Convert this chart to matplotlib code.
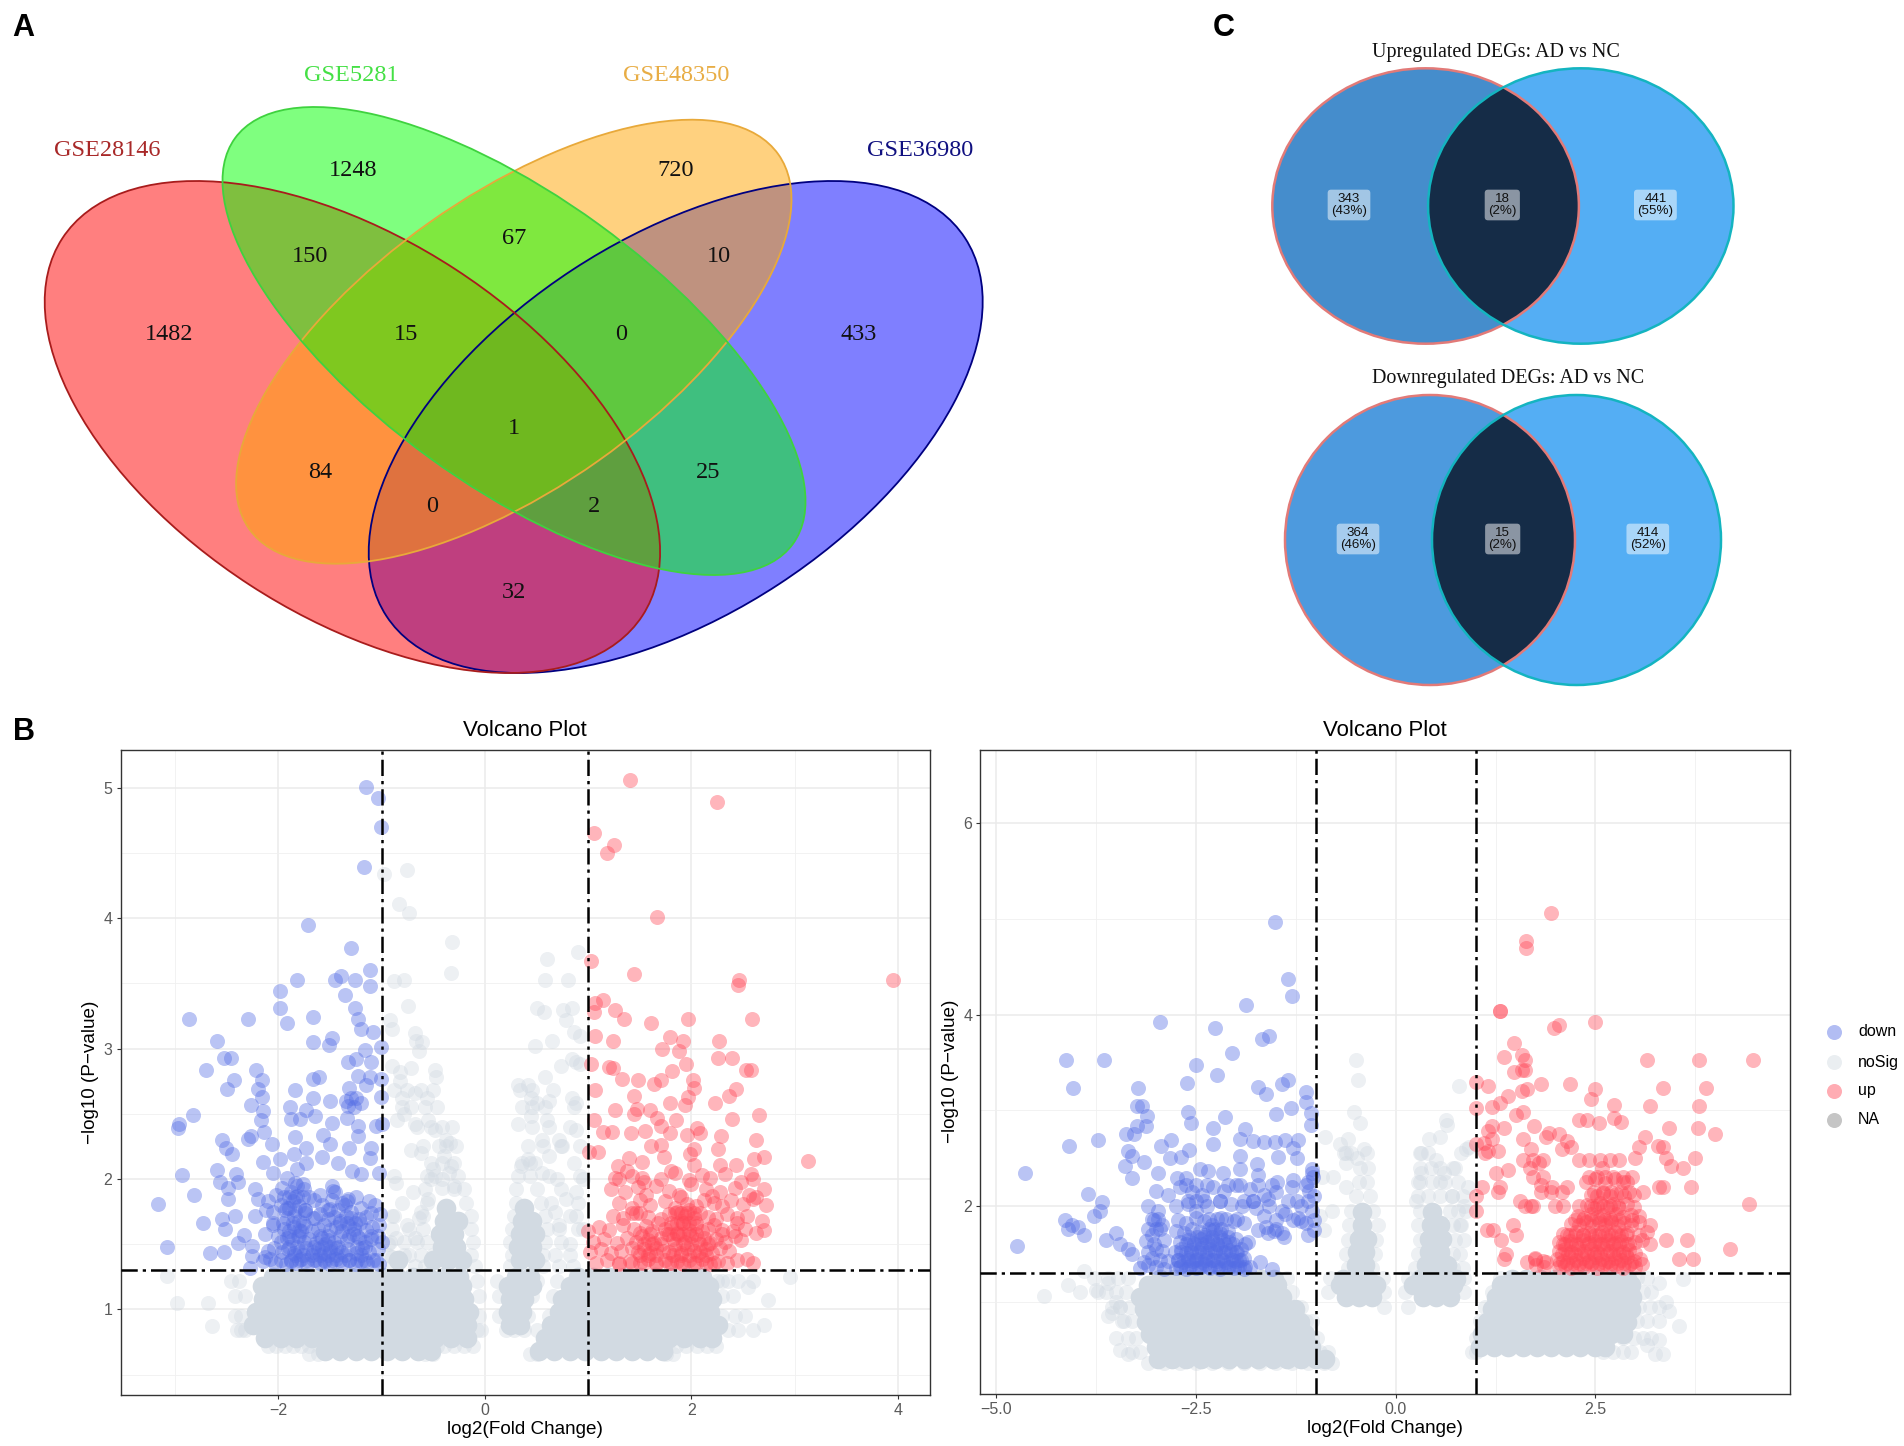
import numpy as np
import matplotlib
matplotlib.use("Agg")
import matplotlib.pyplot as plt
from matplotlib.patches import Ellipse

# ---------------- DATA ----------------
VENN4_LABELS = ["GSE28146", "GSE5281", "GSE48350", "GSE36980"]
VENN4_COUNTS = ["1482", "1248", "720", "433", "150", "67", "10", "15", "0", "1", "84", "25", "0", "2", "32"]
UP_COUNTS = ["343\n(43%)", "18\n(2%)", "441\n(55%)"]
DOWN_COUNTS = ["364\n(46%)", "15\n(2%)", "414\n(52%)"]
LEGEND_NAMES = ["down", "noSig", "up", "NA"]

# Panel B left: significant genes
B1_DOWN_X = [-1.15,-1.04,-1.01,-1.17,-1.71,-1.30,-1.11,-1.39,-1.45,-1.26,-1.82,-1.11,-1.99,-1.36,-1.26,-1.99,-2.87,-2.30,-1.67,-1.23,-1.92,-1.20,-1.08,-2.60,-1.48,-1.67,-1.51,-1.01,-1.16,-2.53,-2.46,-1.33,-1.25,-1.10,-2.70,-2.22,-2.43,-2.16,-1.67,-1.61,-1.23,-1.11,-1.01,-2.50,-2.20,-1.84,-1.32,-1.15,-2.16,-1.67,-1.01,-2.27,-1.89,-1.50,-1.35,-1.30,-1.27,-1.20,-1.25,-1.33,-2.83,-2.96,-2.97,-2.15,-2.17,-1.88,-1.79,-1.65,-1.73,-1.48,-1.34,-1.23,-1.06,-1.00,-2.27,-2.30,-2.14,-2.55,-2.51,-2.45,-2.06,-1.84,-1.57,-1.23,-1.50,-1.32,-1.10,-1.73,-1.85,-1.99,-2.15,-1.58,-1.42,-1.11,-1.73,-1.82,-2.93,-2.60,-2.41,-2.05,-1.92,-1.29,-1.20,-1.03,-2.57,-2.39,-2.49,-2.82,-2.23,-2.49,-1.48,-1.82,-1.76,-1.47,-1.34,-1.07,-3.17,-2.73,-3.08,-2.66,-2.53,-2.55,-2.52,-2.42,-2.23,-2.33,-2.39,-2.26,-2.28,-2.26,-2.13,
-2.15,-2.08,-2.03,-1.98,-1.93,-1.88,-1.83,-1.78,-1.72,-1.66,-1.60,-1.55,-1.50,-1.44,-1.38,-1.32,-1.26,-1.20,-1.14,-1.08,-1.03,
-2.10,-2.04,-1.97,-1.91,-1.85,-1.79,-1.73,-1.67,-1.62,-1.56,-1.50,-1.44,-1.39,-1.33,-1.25,-1.19,-1.12,-1.04,
-1.98,-1.92,-1.87,-1.81,-1.75,-1.70,-1.64,-1.58,-1.52,-1.46,-1.40,-1.34,-1.28,-1.22,-1.16,-1.10,-1.04,-1.00,
-1.95,-1.90,-1.85,-1.80,-1.74,-1.68,-1.62,-1.56,-1.50,-1.44,-1.38,-1.32,-1.27,-1.21,-1.15,-1.09,-1.03,
-1.92,-1.85,-1.80,-1.74,-1.67,-1.60,-1.52,-1.46,-1.40,-1.35,-1.30,-1.22,-1.15,-1.02,
-2.05,-1.98,-1.92,-1.86,-1.80,-1.74,-1.66,-1.58,-1.50,-1.38,-1.30,-1.20,-1.10,
-2.20,-2.10,-2.02,-1.95,-1.88,-1.82,-1.75,-1.60,-1.48,-1.36,-1.25,-1.12,
-2.13,-2.05,-1.97,-1.90,-1.84,-1.78,-1.65,-1.55,-1.45,-1.33]
B1_DOWN_Y = [5.01,4.92,4.70,4.39,3.95,3.77,3.60,3.56,3.53,3.53,3.53,3.48,3.44,3.41,3.31,3.31,3.23,3.23,3.24,3.23,3.20,3.15,3.13,3.06,3.08,3.05,3.03,3.01,2.99,2.93,2.93,2.90,2.92,2.90,2.84,2.84,2.76,2.76,2.77,2.78,2.79,2.78,2.77,2.69,2.69,2.68,2.70,2.72,2.63,2.62,2.63,2.57,2.55,2.60,2.60,2.62,2.55,2.58,2.62,2.56,2.49,2.42,2.39,2.52,2.45,2.46,2.46,2.48,2.53,2.43,2.47,2.41,2.41,2.42,2.33,2.31,2.36,2.30,2.24,2.19,2.27,2.32,2.34,2.33,2.27,2.24,2.24,2.24,2.19,2.15,2.13,2.17,2.12,2.16,2.12,2.08,2.03,2.07,2.04,2.05,2.01,2.06,2.04,2.05,1.98,1.98,1.93,1.88,1.92,1.85,1.95,1.95,1.96,1.91,1.83,1.80,1.81,1.66,1.48,1.43,1.44,1.69,1.62,1.72,1.72,1.57,1.51,1.49,1.32,1.41,1.40,
1.37,1.39,1.36,1.38,1.35,1.37,1.36,1.39,1.35,1.38,1.36,1.37,1.35,1.39,1.36,1.38,1.35,1.37,1.36,1.38,1.35,
1.45,1.47,1.44,1.46,1.43,1.45,1.47,1.44,1.46,1.43,1.45,1.47,1.44,1.46,1.43,1.47,1.44,1.46,
1.52,1.55,1.53,1.56,1.52,1.54,1.51,1.55,1.53,1.52,1.56,1.53,1.58,1.55,1.52,1.54,1.56,1.52,
1.62,1.60,1.63,1.61,1.64,1.60,1.62,1.65,1.61,1.63,1.60,1.64,1.62,1.66,1.61,1.63,1.65,
1.70,1.72,1.68,1.74,1.70,1.73,1.69,1.71,1.68,1.72,1.70,1.69,1.71,1.73,
1.75,1.80,1.78,1.83,1.79,1.76,1.84,1.80,1.77,1.82,1.75,1.78,1.74,
1.85,1.83,1.88,1.86,1.90,1.87,1.92,1.88,1.84,1.80,1.86,1.83,
1.58,1.65,1.93,1.78,1.97,1.60,1.70,1.50,1.90,1.85]
B1_UP_X = [1.40,2.25,1.06,1.25,1.18,1.67,1.03,1.44,2.46,2.45,3.95,1.14,1.07,1.06,1.26,1.35,1.61,1.97,2.59,1.07,1.24,1.79,1.92,2.27,1.71,1.88,2.26,2.39,1.03,1.95,1.20,1.24,1.81,2.53,2.58,1.33,1.48,1.70,1.64,2.01,2.43,1.07,2.02,1.44,1.97,2.36,2.23,1.79,1.26,1.47,1.60,1.94,1.44,1.67,2.65,1.06,2.39,1.85,1.70,2.05,1.14,1.23,1.41,1.55,1.79,1.96,2.08,2.29,2.62,1.61,1.70,2.26,2.02,1.01,1.09,1.99,3.13,2.70,2.61,1.39,1.73,2.02,2.28,2.43,1.29,1.38,1.52,1.80,2.58,1.26,1.52,
1.08,1.18,1.30,1.40,1.50,1.58,1.66,1.74,1.80,1.86,1.92,1.98,2.04,2.10,2.18,2.26,2.34,2.44,2.54,2.60,
1.02,1.12,1.22,1.32,1.42,1.48,1.54,1.60,1.66,1.72,1.78,1.84,1.90,1.96,2.02,2.08,2.14,2.20,2.28,2.36,
1.05,1.15,1.28,1.38,1.46,1.52,1.58,1.64,1.70,1.76,1.82,1.88,1.94,2.00,2.06,2.12,2.18,2.24,2.32,2.42,2.48,
1.00,1.10,1.20,1.34,1.44,1.50,1.56,1.62,1.68,1.74,1.80,1.86,1.92,1.98,2.04,2.10,2.16,2.22,2.30,2.40,2.52,2.62,2.70,
1.24,1.34,1.46,1.58,1.70,1.78,1.86,1.90,1.94,1.98,2.02,2.08,2.16,2.24,2.34,2.44,2.54,2.68,
1.30,1.42,1.50,1.60,1.74,1.84,1.90,1.96,2.04,2.12,2.22,2.30,2.38,2.50,2.62,2.72,
1.22,1.36,1.48,1.56,1.66,1.78,1.88,2.00,2.14,2.20,2.28,2.42,2.56,2.60,2.70,
1.30,1.42,1.54,1.70,1.84,1.98,2.10,2.18,2.32,2.48,2.60]
B1_UP_Y = [5.06,4.89,4.65,4.56,4.50,4.01,3.67,3.57,3.53,3.49,3.53,3.37,3.35,3.28,3.30,3.23,3.20,3.23,3.23,3.10,3.06,3.09,3.06,3.06,3.00,2.98,2.93,2.93,2.88,2.88,2.86,2.85,2.83,2.84,2.84,2.77,2.76,2.76,2.73,2.76,2.69,2.68,2.70,2.64,2.63,2.64,2.58,2.58,2.53,2.54,2.53,2.57,2.50,2.47,2.49,2.45,2.46,2.45,2.41,2.39,2.36,2.36,2.35,2.37,2.35,2.34,2.35,2.33,2.30,2.25,2.26,2.23,2.23,2.21,2.21,2.19,2.14,2.17,2.15,2.16,2.17,2.11,2.11,2.11,2.10,2.06,2.13,2.06,2.04,2.01,2.01,
1.36,1.38,1.35,1.37,1.36,1.39,1.35,1.38,1.36,1.37,1.35,1.38,1.36,1.39,1.35,1.37,1.36,1.38,1.39,1.36,
1.44,1.46,1.43,1.45,1.47,1.44,1.46,1.43,1.47,1.45,1.44,1.46,1.43,1.47,1.45,1.44,1.46,1.43,1.47,1.45,
1.52,1.54,1.51,1.55,1.52,1.56,1.53,1.51,1.55,1.58,1.54,1.57,1.52,1.56,1.53,1.55,1.51,1.54,1.52,1.56,1.53,
1.60,1.63,1.61,1.65,1.62,1.59,1.64,1.60,1.66,1.62,1.63,1.59,1.66,1.61,1.64,1.60,1.62,1.65,1.61,1.60,1.62,1.59,1.61,
1.72,1.70,1.74,1.71,1.69,1.73,1.75,1.68,1.72,1.76,1.70,1.74,1.71,1.69,1.73,1.70,1.72,1.68,
1.82,1.78,1.84,1.80,1.83,1.78,1.86,1.81,1.79,1.84,1.82,1.79,1.84,1.81,1.86,1.80,
1.92,1.90,1.94,1.88,1.95,1.91,1.88,1.96,1.92,1.87,1.90,1.93,1.88,1.85,1.92,
2.00,2.02,1.98,2.00,2.05,1.99,2.03,2.01,2.04,1.98,2.00]
B1_SPARSE_X = [-3.08,-2.98,-2.68,-2.64,-2.36,-0.98,-0.76,-0.83,-0.74,-0.32,-0.33,-0.88,-0.78,-0.75,-0.92,-0.9,-0.68,-0.61,-0.67,-0.64,-0.9,-0.82,-0.72,-0.82,-0.48,-0.47,-0.8,-0.68,-0.56,-0.78,-0.85,-0.68,-0.55,-0.48,-0.38,-0.34,-0.72,-0.62,-0.4,-0.33,-0.5,-0.35,-0.42,-0.52,-0.3,-0.42,-0.86,-0.7,-0.55,-0.62,-0.9,-0.76,-0.64,-0.86,-0.94,-0.68,-0.78,-0.9,
0.60,0.58,0.8,0.9,0.84,0.5,0.57,0.76,0.78,0.86,0.92,0.48,0.65,0.92,0.84,0.74,0.88,0.32,0.42,0.58,0.45,0.5,0.62,0.84,0.88,0.32,0.45,0.6,0.72,0.55,0.42,0.88,0.55,0.75,0.35,0.48,0.62,0.92,0.7,0.95,0.88,0.78,0.88,0.72,0.68,0.95,0.82,2.3,2.55,2.74,2.7,2.95,2.6]
B1_SPARSE_Y = [1.26,1.05,1.05,0.87,0.84,4.34,4.37,4.11,4.04,3.82,3.58,3.52,3.53,3.33,3.22,3.15,3.12,3.05,3.06,2.98,2.87,2.82,2.85,2.75,2.84,2.78,2.62,2.66,2.62,2.5,2.45,2.42,2.45,2.38,2.3,2.28,2.22,2.2,2.18,2.1,2.08,2.05,2.0,2.0,1.95,1.93,1.97,1.9,1.85,1.75,1.72,1.65,1.7,1.55,1.5,1.55,1.42,1.4,
3.69,3.53,3.53,3.74,3.31,3.31,3.28,3.3,3.22,3.13,3.1,3.02,3.06,2.88,2.92,2.87,2.9,2.72,2.72,2.78,2.62,2.58,2.6,2.62,2.58,2.42,2.48,2.45,2.3,2.3,2.15,2.38,2.05,2.25,2.1,2.12,2.18,2.25,2.0,2.0,1.9,1.85,1.72,1.65,1.75,1.62,1.5,1.22,1.17,1.07,0.88,1.25,0.84]
# further translucent noSig genes, by row: (-log10 P, [log2FC values])
B1_SPARSE_ROWS = [
 (0.66,[-1.7,-1.62,-0.58,-0.5,0.44,0.5,1.75,1.82]),
 (0.72,[-2.1,-2.02,-1.94,-1.86,-1.78,-1.7,-0.46,-0.4,-0.3,-0.2,-0.12,1.85,1.95,2.05,2.15,2.24]),
 (0.84,[-2.4,-2.32,-0.08,-0.04,0.2,0.28,0.38,0.5,2.35,2.45]),
 (0.95,[-2.42,-2.36,-0.06,0.14,0.42,0.62,2.3,2.42,2.52]),
 (1.1,[-2.42,-2.32,-0.06,0.14,0.46,0.66,2.3,2.4]),
 (1.22,[-2.38,-2.46,-0.08,0.12,0.5,0.7,2.25,2.35,2.45,2.6]),
 (1.33,[-0.9,-0.68,-0.58,-0.1,0.24,0.56,0.72,0.85]),
 (1.42,[-0.94,-0.74,-0.62,-0.5,-0.14,0.26,0.56,0.68,0.82]),
 (1.52,[-0.92,-0.78,-0.66,-0.56,-0.12,0.24,0.58,0.74]),
 (1.62,[-0.9,-0.74,-0.6,-0.14,0.26,0.6,0.72,0.9]),
 (1.72,[-0.88,-0.6,-0.14,0.28,0.58,0.82]),
 (1.82,[-0.8,-0.56,-0.18,0.3,0.54,0.64,0.9]),
 (1.92,[-0.58,-0.3,-0.2,0.3,0.5,0.74]),
 (2.02,[-0.88,-0.56,-0.48,-0.26,0.32,0.44,0.62,0.92]),
 (2.12,[-0.52,-0.42,-0.3,0.36,0.44,0.86]),
 (2.25,[-0.6,-0.45,-0.38,-0.28,0.42,0.56,0.74]),
 (2.4,[-0.66,-0.52,-0.42,-0.32,0.46,0.62,0.82]),
 (2.55,[-0.8,-0.72,-0.58,-0.46,0.36,0.46,0.58,0.86]),
 (2.68,[-0.88,-0.76,-0.62,-0.5,0.34,0.46,0.66]),
]
# rows of the dense noSig mass: (-log10 P, [log2FC values])
B1_MASS = [
 (0.68,[-1.55,-1.40,-1.25,-1.10,-0.95,-0.80,-0.65,-0.52, 0.52,0.67,0.82,0.97,1.12,1.27,1.42,1.57,1.72]),
 (0.78,[-2.13,-1.98,-1.83,-1.68,-1.53,-1.38,-1.23,-1.08,-0.93,-0.78,-0.63,-0.48,-0.33,-0.17, 0.58,0.73,0.88,1.03,1.18,1.33,1.48,1.63,1.78,1.93,2.08,2.2]),
 (0.88,[-2.25,-2.10,-1.95,-1.80,-1.65,-1.50,-1.35,-1.20,-1.05,-0.90,-0.75,-0.60,-0.45,-0.30,-0.17, 0.24,0.34, 0.64,0.79,0.94,1.09,1.24,1.39,1.54,1.69,1.84,1.99,2.14,2.26]),
 (0.98,[-2.22,-2.07,-1.92,-1.77,-1.62,-1.47,-1.32,-1.17,-1.02,-0.87,-0.72,-0.57,-0.42,-0.27,-0.15, 0.22,0.36, 0.72,0.87,1.02,1.17,1.32,1.47,1.62,1.77,1.92,2.07,2.18]),
 (1.08,[-2.15,-2.00,-1.85,-1.70,-1.55,-1.40,-1.25,-1.10,-0.95,-0.80,-0.65,-0.50,-0.35,-0.20, 0.24,0.38, 0.75,0.90,1.05,1.20,1.35,1.50,1.65,1.80,1.95,2.10,2.2]),
 (1.18,[-2.16,-2.02,-1.87,-1.72,-1.57,-1.42,-1.27,-1.12,-0.97,-0.82,-0.67,-0.52,-0.37,-0.22, 0.22,0.36,0.46, 0.82,0.97,1.12,1.27,1.42,1.57,1.72,1.87,2.02,2.17]),
 (1.25,[-2.05,-1.90,-1.75,-1.60,-1.45,-1.30,-1.15,-1.00,-0.85,-0.70,-0.55,-0.40,-0.25, 0.30,0.44, 0.90,1.05,1.20,1.35,1.50,1.65,1.80,1.95,2.10]),
 (1.38,[-0.84,-0.50,-0.36,-0.22, 0.34,0.48]),
 (1.48,[-0.42,-0.28, 0.32,0.46]),
 (1.58,[-0.44,-0.30, 0.34,0.48]),
 (1.68,[-0.40,-0.26, 0.36,0.46]),
 (1.78,[-0.38, 0.38]),
]
# extra dense genes in the core of each significant cloud, by row
B1_DOWN_CORE = [
 (1.38,[-1.88,-1.8,-1.72,-1.64,-1.56,-1.48,-1.4,-1.32,-1.24,-1.16,-1.06]),
 (1.42,[-1.84,-1.76,-1.68,-1.6,-1.52,-1.44,-1.36,-1.2]),
 (1.48,[-1.9,-1.82,-1.66,-1.58,-1.5,-1.42,-1.24,-1.16]),
 (1.56,[-2.0,-1.9,-1.8,-1.6,-1.52,-1.32,-1.24,-1.1]),
 (1.66,[-2.05,-1.96,-1.86,-1.76,-1.4,-1.34,-1.26]),
 (1.76,[-2.12,-1.94,-1.84,-1.74,-1.52,-1.42]),
 (1.86,[-1.9,-1.84,-1.76,-1.7]),
]
B1_UP_CORE = [
 (1.36,[1.3,1.42,1.54,1.66,1.78,1.9,2.02,2.14,2.22]),
 (1.42,[1.5,1.58,1.66,1.82,1.9,1.98,2.06,2.14]),
 (1.5,[1.54,1.62,1.7,1.84,1.92,2.0,2.08,2.16]),
 (1.58,[1.6,1.78,1.86,1.92,1.98,2.04,2.3]),
 (1.66,[1.8,1.86,1.92,1.98,2.04,2.44]),
 (1.74,[1.84,1.9,1.96,2.02,1.42,1.5]),
]
B2_SPARSE_X = [-4.4,-4.1,-3.95,-3.9,-3.75,-3.6,-3.5,-3.45,-3.55,-3.4,-3.6,-3.5,-3.45,-3.35,-0.5,-0.47,-0.52,-0.44,-0.7,-0.65,-0.88,-0.6,-0.56,-0.62,-0.4,-0.92,-0.78,-0.62,-0.8,-0.48,-0.95,-0.9,0.63,0.42,0.64,0.79,0.55,0.31,0.5,0.92,0.32,0.55,0.72,0.88,0.3,0.6,0.7,0.25,0.9,0.85,0.8,3.3,3.38,3.42,3.55,3.6,3.3,3.25,3.15,3.35]
B2_SPARSE_Y = [1.06,1.18,1.1,1.32,1.12,1.2,1.0,0.95,0.88,0.8,0.85,0.62,0.5,0.45,3.53,3.32,2.98,2.87,2.65,2.55,2.72,2.7,2.55,2.45,2.6,2.3,2.3,2.2,1.95,2.5,1.9,1.75,2.9,2.7,2.85,3.25,2.72,2.55,2.48,2.62,2.35,2.25,2.4,2.6,2.25,2.35,2.1,2.05,2.2,2.0,1.8,1.2,1.0,0.9,0.75,1.24,0.6,0.45,0.55,0.45]
B2_SPARSE_ROWS = [
 (0.36,[-3.1,-2.9,-2.7,-2.5,-2.3,-2.1,-1.9,-1.7,-1.5,-1.3,-1.1,-0.9,-0.8]),
 (0.48,[-3.2,-3.3,-0.95,-0.85,0.95,1.0,2.6,2.72,2.85,2.95]),
 (0.62,[-3.25,-3.35,-1.05,-0.98,1.0,2.85,2.98,3.1,3.2]),
 (0.8,[-3.3,-3.42,-1.12,-1.05,1.05,3.02,3.15,3.3]),
 (0.95,[-3.32,-3.45,-3.55,-1.18,-0.15,0.15,1.12,3.05,3.18,3.3]),
 (1.1,[-3.38,-3.5,-3.62,-3.72,-1.3,-0.85,-0.15,0.12,0.85,1.2,3.1,3.2]),
 (1.25,[-3.35,-3.48,-3.6,-3.78,-1.36,-0.82,-0.16,0.16,0.86,1.3,3.02,3.14]),
 (1.35,[-0.6,-0.3,0.24,0.72,0.84]),
 (1.5,[-0.62,-0.26,0.28,0.72,0.8]),
 (1.65,[-0.6,-0.24,0.3,0.74,0.86]),
 (1.8,[-0.58,-0.22,0.28,0.72,0.82]),
 (1.95,[-0.56,-0.28,0.3,0.68,0.78,0.88]),
 (2.1,[-0.5,-0.32,0.28,0.4,0.56,0.7,0.84]),
 (2.25,[-0.46,-0.36,0.28,0.46,0.62,0.78]),
 (2.4,[-0.44,-0.34,0.3,0.44,0.56,0.74]),
 (2.55,[-0.62,-0.36,0.32,0.4,0.82]),
]
B2_MASS = [
 (0.40,[-2.98,-2.8,-2.62,-2.44,-2.26,-2.08,-1.9,-1.72,-1.54,-1.36,-1.18,-1.0,-0.88]),
 (0.53,[-3.0,-2.82,-2.64,-2.46,-2.28,-2.1,-1.92,-1.74,-1.56,-1.38,-1.2,-1.06, 1.05,1.23,1.41,1.59,1.77,1.95,2.13,2.31,2.49,2.62]),
 (0.66,[-3.08,-2.9,-2.72,-2.54,-2.36,-2.18,-2.0,-1.82,-1.64,-1.46,-1.28,-1.14, 1.08,1.26,1.44,1.62,1.8,1.98,2.16,2.34,2.52,2.7,2.84]),
 (0.79,[-3.12,-2.94,-2.76,-2.58,-2.4,-2.22,-2.04,-1.86,-1.68,-1.5,-1.32,-1.2, 1.14,1.32,1.5,1.68,1.86,2.04,2.22,2.4,2.58,2.76,2.9]),
 (0.92,[-3.15,-2.97,-2.79,-2.61,-2.43,-2.25,-2.07,-1.89,-1.71,-1.53,-1.36,-1.26, 1.2,1.38,1.56,1.74,1.92,2.1,2.28,2.46,2.64,2.82,2.94]),
 (1.05,[-3.2,-3.02,-2.84,-2.66,-2.48,-2.3,-2.12,-1.94,-1.76,-1.58,-1.42, -0.62,-0.46,-0.3, 0.34,0.5,0.68, 1.25,1.43,1.61,1.79,1.97,2.15,2.33,2.51,2.69,2.87,2.96]),
 (1.18,[-3.1,-2.92,-2.74,-2.56,-2.38,-2.2,-2.02,-1.84,-1.66,-1.48, -0.7,-0.54,-0.38,-0.24, 0.22,0.38,0.55,0.72, 1.32,1.5,1.68,1.86,2.04,2.22,2.4,2.58,2.76,2.94]),
 (1.24,[-2.95,-2.77,-2.59,-2.41,-2.23,-2.05,-1.87,-1.69,-1.52, -0.66,-0.5,-0.34, 0.3,0.46,0.62,0.76, 1.45,1.63,1.81,1.99,2.17,2.35,2.53,2.71,2.89]),
 (1.38,[-0.5,-0.38, 0.38,0.54,0.64]),
 (1.52,[-0.48,-0.38, 0.42,0.56]),
 (1.66,[-0.46,-0.36, 0.42,0.58]),
 (1.80,[-0.42, 0.44,0.56]),
 (1.94,[-0.42, 0.46]),
]
B2_DOWN_CORE = [
 (1.36,[-2.7,-2.58,-2.46,-2.34,-2.22,-2.1,-1.98,-1.88]),
 (1.44,[-2.72,-2.6,-2.5,-2.38,-2.28,-2.16,-2.04,-1.96]),
 (1.52,[-2.68,-2.56,-2.46,-2.36,-2.26,-2.16,-2.06,-1.98]),
 (1.6,[-2.62,-2.52,-2.42,-2.34,-2.24,-2.14,-2.04]),
 (1.68,[-2.58,-2.48,-2.4,-2.3,-2.2,-2.1]),
 (1.76,[-2.34,-2.26,-2.18,-3.1,-3.0]),
 (1.86,[-2.34,-2.24,-2.12,-3.05,-2.98,-1.98]),
 (2.05,[-2.6,-2.5,-2.4,-2.2,-1.9,-1.78,-1.24,-1.1]),
 (2.22,[-2.62,-2.5,-2.36,-2.1,-1.95,-1.72,-1.55,-1.12]),
]
B2_UP_CORE = [
 (1.4,[2.06,2.14,2.22,2.3,2.38,2.46,2.54,2.62,2.7,2.78,2.86,2.94]),
 (1.5,[2.08,2.16,2.24,2.32,2.4,2.48,2.56,2.64,2.72,2.8,2.88]),
 (1.6,[2.12,2.2,2.3,2.4,2.48,2.56,2.64,2.72,2.8,2.92]),
 (1.7,[2.14,2.24,2.34,2.44,2.54,2.62,2.7,2.78,2.88]),
 (1.85,[2.24,2.34,2.44,2.54,2.62,2.7,2.8,2.96]),
 (2.0,[1.62,1.72,2.0,2.1,2.3,2.44,2.52,2.6,2.68,2.78]),
 (2.15,[1.82,1.95,2.08,2.48,2.6,2.7,2.82,2.92]),
 (2.3,[1.72,1.85,2.42,2.52,2.62,2.72,2.84,2.96]),
 (2.48,[1.6,1.72,1.85,2.3,2.42,2.56,2.68,2.8]),
]
B2_DOWN_X = [-1.51,-1.35,-1.30,-1.87,-2.95,-2.26,-1.58,-1.67,-2.05,-4.13,-3.65,-2.50,-2.23,-2.61,-1.35,-1.42,-4.04,-3.23,-1.72,-1.62,-1.12,-1.12,-3.24,-3.18,-1.31,-1.50,-2.60,-1.06,-3.11,-2.13,-2.56,-3.12,-3.24,-2.28,-1.06,-1.88,-3.38,-3.28,-1.95,-1.79,-1.65,-1.51,-1.38,-1.22,-3.72,-2.81,-2.28,-2.93,-4.09,-1.28,-2.59,-3.35,-3.30,-1.95,-1.47,-2.68,-2.82,-1.24,-3.15,-3.39,-4.64,-1.74,-1.95,-2.45,-2.35,-1.05,-1.05,-2.16,-2.97,-1.72,-2.74,-2.62,-3.30,-1.28,-1.48,-1.08,-3.85,-3.68,-4.74,-4.14,-4.05,-4.1,-3.97,-3.9,-3.78,-3.7,-3.62,-3.5,-3.45,-3.35,-3.3,
-2.75,-2.68,-2.62,-2.56,-2.5,-2.44,-2.38,-2.32,-2.26,-2.2,-2.14,-2.08,-2.02,-1.96,-1.9,-1.82,-3.2,-3.1,-3.0,-2.9,-1.55,
-2.72,-2.66,-2.6,-2.54,-2.48,-2.42,-2.36,-2.3,-2.24,-2.18,-2.12,-2.06,-2.0,-1.94,-3.15,-3.05,-2.95,-2.85,-1.9,-1.7,
-2.76,-2.68,-2.62,-2.56,-2.5,-2.44,-2.38,-2.32,-2.26,-2.2,-2.14,-2.08,-2.0,-1.94,-3.1,-3.0,-2.92,-1.72,-1.6,-1.5,-1.4,
-2.7,-2.6,-2.52,-2.44,-2.36,-2.3,-2.24,-2.16,-2.08,-2.0,-3.12,-3.02,-2.9,-1.88,-1.62,-1.52,-1.42,-1.18,
-2.75,-2.65,-2.55,-2.45,-2.38,-2.28,-2.2,-2.1,-3.05,-2.95,-1.85,-1.65,-1.5,-1.38,-1.22,-1.1,-1.02,
-2.72,-2.62,-2.5,-2.4,-2.3,-2.18,-2.02,-1.9,-3.02,-2.92,-1.75,-1.58,-1.42,-1.28,-1.12,-1.02,
-3.1,-2.98,-2.75,-2.6,-2.5,-2.36,-2.2,-2.06,-1.92,-1.78,-1.6,-1.35,-1.18,-1.05,
-3.0,-2.85,-2.7,-2.55,-2.42,-2.28,-2.15,-2.0,-1.82,-1.65,-1.5,-1.3,-1.1,-1.04,-1.02]
B2_DOWN_Y = [4.97,4.37,4.19,4.10,3.92,3.86,3.78,3.74,3.60,3.53,3.53,3.47,3.37,3.29,3.32,3.27,3.23,3.23,3.24,3.17,3.19,3.09,3.05,3.05,3.02,2.96,2.98,2.97,2.94,2.93,2.87,2.84,2.84,2.82,2.85,2.80,2.75,2.75,2.70,2.68,2.67,2.67,2.69,2.69,2.69,2.69,2.65,2.63,2.63,2.61,2.59,2.57,2.52,2.52,2.51,2.51,2.50,2.50,2.46,2.42,2.35,2.44,2.39,2.39,2.37,2.39,2.34,2.34,2.35,2.32,2.29,2.29,2.29,2.27,2.25,2.16,2.13,2.04,1.58,1.85,1.8,1.76,1.78,1.7,1.9,1.95,1.65,1.72,1.6,1.55,1.5,
1.35,1.37,1.34,1.38,1.35,1.36,1.39,1.35,1.37,1.34,1.38,1.36,1.35,1.37,1.34,1.36,1.35,1.38,1.36,1.34,1.34,
1.44,1.42,1.46,1.43,1.45,1.42,1.46,1.44,1.43,1.46,1.42,1.45,1.43,1.44,1.42,1.46,1.44,1.43,1.46,1.42,
1.52,1.55,1.51,1.54,1.52,1.56,1.51,1.55,1.53,1.56,1.52,1.54,1.52,1.55,1.52,1.55,1.53,1.75,1.72,1.76,1.68,
1.62,1.65,1.61,1.66,1.62,1.64,1.6,1.65,1.62,1.66,1.63,1.6,1.65,1.6,1.78,1.74,1.72,1.84,
1.74,1.72,1.76,1.73,1.7,1.75,1.72,1.74,1.7,1.76,1.62,1.9,1.85,1.92,1.88,1.7,1.75,
1.85,1.82,1.88,1.84,1.8,1.87,1.84,1.82,1.85,1.8,1.98,2.0,1.95,1.85,1.82,1.85,
2.0,1.95,2.0,2.02,1.95,2.0,2.05,2.02,2.0,2.05,2.07,2.05,2.0,1.95,
2.16,2.12,2.2,2.15,2.12,2.2,2.16,2.22,2.18,2.12,2.15,2.2,2.25,2.3,2.1]
B2_UP_X = [1.95,1.63,1.63,1.3,1.3,2.5,1.98,2.04,1.48,1.58,1.62,1.35,1.62,3.15,3.8,4.47,1.58,1.48,3.35,3.88,1.0,1.16,2.18,2.5,2.45,1.58,1.65,1.82,1.4,1.3,2.73,3.18,3.8,1.0,1.2,1.5,1.6,2.4,2.3,2.73,2.82,2.54,1.2,1.16,1.73,1.92,2.04,1.36,3.42,3.78,4.0,1.2,1.6,1.88,2.15,3.12,3.35,1.1,1.0,1.16,1.7,2.08,2.2,3.05,3.28,3.38,3.75,1.12,1.28,1.25,1.68,1.8,1.4,3.0,3.45,3.6,1.3,2.58,3.35,2.9,1.82,1.96,2.14,3.3,3.1,3.7,1.7,1.56,1.08,1.28,1.0,4.42,4.18,3.65,3.38,3.72,3.55,1.35,1.22,1.5,1.38,1.75,1.88,1.0,1.14,1.32,1.47,1.65,
2.05,2.12,2.2,2.28,2.36,2.44,2.52,2.6,2.68,2.76,2.84,2.92,3.0,3.08,1.86,1.76,
2.02,2.1,2.18,2.26,2.34,2.42,2.5,2.58,2.66,2.74,2.82,2.9,2.98,3.06,1.84,1.74,
2.04,2.12,2.2,2.28,2.36,2.44,2.52,2.6,2.68,2.76,2.84,2.92,3.0,
2.04,2.1,2.18,2.26,2.34,2.42,2.5,2.58,2.66,2.74,2.82,2.9,3.0,3.08,3.18,
2.1,2.18,2.26,2.34,2.42,2.5,2.58,2.66,2.74,2.82,2.9,3.05,3.15,
2.2,2.3,2.38,2.46,2.54,2.62,2.7,2.78,2.86,2.95,3.05,3.18,
2.28,2.36,2.44,2.52,2.6,2.68,2.76,2.84,2.94,3.05,
2.4,2.48,2.56,2.64,2.72,2.8,2.9,2.98,
2.44,2.52,2.6,2.68,2.76,2.86,2.98,
2.38,2.5,2.62,2.74,2.85]
B2_UP_Y = [5.06,4.77,4.7,4.04,4.04,3.92,3.86,3.89,3.7,3.58,3.53,3.56,3.42,3.53,3.53,3.53,3.42,3.4,3.23,3.23,3.3,3.25,3.27,3.22,3.12,3.2,3.22,3.27,3.15,3.08,3.06,3.05,3.05,3.02,3.03,2.95,2.98,2.9,2.9,2.92,2.88,2.87,2.84,2.78,2.84,2.76,2.75,2.82,2.82,2.82,2.75,2.7,2.7,2.72,2.68,2.72,2.62,2.66,2.65,2.58,2.6,2.6,2.62,2.62,2.63,2.5,2.5,2.55,2.58,2.35,2.4,2.45,2.38,2.5,2.42,2.4,2.2,2.4,2.2,2.25,2.22,2.2,2.2,2.2,2.15,2.2,2.0,2.05,2.2,2.15,2.1,2.02,1.55,1.65,1.65,1.45,1.45,1.45,1.75,1.7,1.5,1.45,1.42,1.95,1.75,1.65,1.8,1.42,
1.36,1.38,1.35,1.37,1.36,1.39,1.35,1.38,1.36,1.37,1.35,1.38,1.36,1.39,1.36,1.38,
1.45,1.43,1.47,1.44,1.46,1.43,1.47,1.45,1.43,1.46,1.44,1.47,1.43,1.45,1.43,1.46,
1.53,1.55,1.52,1.56,1.53,1.55,1.52,1.56,1.53,1.55,1.52,1.54,1.51,
1.62,1.6,1.63,1.6,1.64,1.61,1.63,1.6,1.64,1.61,1.63,1.6,1.62,1.64,1.6,
1.71,1.7,1.73,1.7,1.72,1.7,1.73,1.71,1.73,1.7,1.72,1.7,1.73,
1.81,1.8,1.83,1.79,1.82,1.8,1.83,1.79,1.82,1.8,1.83,1.8,
1.9,1.88,1.92,1.89,1.91,1.88,1.92,1.89,1.91,1.9,
2.01,1.98,2.03,1.99,2.02,1.98,2.02,1.99,
2.12,2.1,2.14,2.1,2.13,2.1,2.12,
2.25,2.28,2.24,2.28,2.25]

XTICKS_1, XLAB_1 = [-2, 0, 2, 4], ["\u22122", "0", "2", "4"]
YTICKS_1, YLAB_1 = [1, 2, 3, 4, 5], ["1", "2", "3", "4", "5"]
XTICKS_2, XLAB_2 = [-5, -2.5, 0, 2.5], ["\u22125.0", "\u22122.5", "0.0", "2.5"]
YTICKS_2, YLAB_2 = [2, 4, 6], ["2", "4", "6"]
COL_DOWN, COL_GREY, COL_UP = "#546de5", "#d2dae2", "#ff4757"

# ---------------- FIGURE ----------------
W, H = 1904, 1446
plt.rcParams["font.family"] = ["Liberation Sans", "DejaVu Sans"]
fig = plt.figure(figsize=(W / 100, H / 100), dpi=100, facecolor="white")
bg = fig.add_axes([0, 0, 1, 1])
bg.set_xlim(0, W); bg.set_ylim(H, 0); bg.axis("off")
SERIF = "Liberation Serif"


def unrow(rows):
    return [x for y, xs in rows for x in xs], [y for y, xs in rows for x in xs]


def skew_ellipse(cx, cy, a, b, c, **kw):
    vals, vecs = np.linalg.eigh(np.array([[a * a, c], [c, b * b]]))
    ang = np.degrees(np.arctan2(vecs[1, 1], vecs[0, 1]))
    return Ellipse((cx, cy), 2 * np.sqrt(vals[1]), 2 * np.sqrt(vals[0]), angle=ang, **kw)


# Panel A
shapes = [((675.7, 427, 307, 246, -38500), "#0000ff", "#000080"),
          ((352.4, 427, 307.7, 246, 38500), "#ff0000", "#a81c1c"),
          ((513.8, 341.7, 277.7, 222, -39500), "#ffa500", "#e8a93a"),
          ((514, 341, 291.5, 234, 46700), "#00ff00", "#3fd23f")]
for p, fc, ec in shapes:
    bg.add_patch(skew_ellipse(*p, facecolor=fc, alpha=0.5, edgecolor="none"))
for p, fc, ec in shapes:
    bg.add_patch(skew_ellipse(*p, fill=False, edgecolor=ec, lw=1.3))
pos4 = [(169, 334), (352.7, 170), (676, 170), (858.4, 334), (310, 256.5), (514, 239), (719.4, 256.5),
        (406, 334), (621, 334), (514, 429), (320, 472.5), (708, 472.5), (432, 507), (594.4, 507), (514, 593)]
for (x, y), t in zip(pos4, VENN4_COUNTS):
    bg.text(x, y, t, family=SERIF, fontsize=17.5, ha="center", va="center", color="#111111")
lab4 = [(107, 150, "#a82828"), (351.4, 75.5, "#45e045"), (676, 75.5, "#e8ad45"), (920, 150, "#101080")]
for (x, y, c), t in zip(lab4, VENN4_LABELS):
    bg.text(x, y, t, family=SERIF, fontsize=17.5, ha="center", va="center", color=c)

for x, y, t in [(23.6, 28, "A"), (24, 731.5, "B"), (1223.7, 28, "C")]:
    bg.text(x, y, t, fontsize=22, fontweight="bold", ha="center", va="center", color="black")


# Panel C
def venn2(y0, ry, left, right, lcol, texts, title, tx, ty):
    lx, lrx = left
    rx, rrx = right
    bg.add_patch(Ellipse((rx, y0), 2 * rrx, 2 * ry, fc="#54aef4", ec="none"))
    le = Ellipse((lx, y0), 2 * lrx, 2 * ry, fc=lcol, ec="none")
    bg.add_patch(le)
    inter = Ellipse((rx, y0), 2 * rrx, 2 * ry, fc="#152c47", ec="none")
    bg.add_patch(inter)
    inter.set_clip_path(le)
    bg.add_patch(Ellipse((lx, y0), 2 * lrx, 2 * ry, fill=False, ec="#e27a78", lw=1.8))
    bg.add_patch(Ellipse((rx, y0), 2 * rrx, 2 * ry, fill=False, ec="#14b4c0", lw=1.8))
    for x, t in zip(texts[0], texts[1]):
        bg.text(x, y0 - 1, t, fontsize=9.6, ha="center", va="center", linespacing=1.0, color="#111111",
                bbox=dict(boxstyle="round,pad=0.25", fc="white", ec="none", alpha=0.5))
    bg.text(tx, ty, title, family=SERIF, fontsize=14.5, ha="center", va="center", color="#111111")


venn2(206, 137.7, (1425.6, 153.3), (1580.8, 152.7), "#458dcc", ((1349, 1502.3, 1655.4), UP_COUNTS),
      "Upregulated DEGs: AD vs NC", 1495.5, 52.5)
venn2(540, 145, (1430, 145), (1576.5, 144.5), "#4d9ade", ((1358, 1502.7, 1647.8), DOWN_COUNTS),
      "Downregulated DEGs: AD vs NC", 1508.5, 379)


# Panel B
def volcano(box, xlim, ylim, xt, xl, yt, yl, xminor, yminor, mass, sx, sy, srows, dx, dy, dcore, ux, uy, ucore):
    l, t, r, b = box
    ax = fig.add_axes([l / W, 1 - b / H, (r - l) / W, (b - t) / H])
    ax.set_xlim(xlim); ax.set_ylim(ylim)
    ax.set_axisbelow(True)
    ax.set_xticks(xt); ax.set_xticklabels(xl)
    ax.set_yticks(yt); ax.set_yticklabels(yl)
    ax.set_xticks(xminor, minor=True); ax.set_yticks(yminor, minor=True)
    ax.grid(True, which="major", color="#ebebeb", lw=1.1)
    ax.grid(True, which="minor", color="#f0f0f0", lw=0.6)
    ax.tick_params(which="major", labelsize=11.5, labelcolor="#5a5a5a", color="#333333", length=3, width=0.8, pad=3)
    ax.tick_params(which="minor", length=0)
    for s in ax.spines.values():
        s.set_color("#333333"); s.set_linewidth(1.0)
    mx, my = unrow(mass)
    ax.scatter(mx, my, s=200, c=COL_GREY, linewidths=0, zorder=2)
    rx, ry = unrow(srows)
    ax.scatter(list(sx) + rx, list(sy) + ry, s=117, c=COL_GREY, alpha=0.4, linewidths=0, zorder=2)
    cx, cy = unrow(dcore)
    ax.scatter(list(dx) + cx, list(dy) + cy, s=117, c=COL_DOWN, alpha=0.4, linewidths=0, zorder=3)
    cx, cy = unrow(ucore)
    ax.scatter(list(ux) + cx, list(uy) + cy, s=117, c=COL_UP, alpha=0.4, linewidths=0, zorder=3)
    dd = (0, (6.5, 2, 1.3, 2))
    ax.axvline(-1, color="black", lw=1.8, ls=dd, zorder=4)
    ax.axvline(1, color="black", lw=1.8, ls=dd, zorder=4)
    ax.axhline(-np.log10(0.05), color="black", lw=1.8, ls=dd, zorder=4)
    ax.set_title("Volcano Plot", fontsize=16, pad=10, color="black")
    ax.set_xlabel("log2(Fold Change)", fontsize=13.6, labelpad=2)
    ax.set_ylabel("\u2212log10 (P\u2212value)", fontsize=13.6, labelpad=3)
    return ax


volcano((120.5, 750, 930, 1394.5), (-3.53, 4.31), (0.348, 5.29), XTICKS_1, XLAB_1, YTICKS_1, YLAB_1,
        [-3, -1, 1, 3], [0.5, 1.5, 2.5, 3.5, 4.5], B1_MASS, B1_SPARSE_X, B1_SPARSE_Y, B1_SPARSE_ROWS,
        B1_DOWN_X, B1_DOWN_Y, B1_DOWN_CORE, B1_UP_X, B1_UP_Y, B1_UP_CORE)
volcano((980.5, 749.5, 1790, 1394), (-5.195, 4.935), (0.036, 6.77), XTICKS_2, XLAB_2, YTICKS_2, YLAB_2,
        [-3.75, -1.25, 1.25, 3.75], [1, 3, 5], B2_MASS, B2_SPARSE_X, B2_SPARSE_Y, B2_SPARSE_ROWS,
        B2_DOWN_X, B2_DOWN_Y, B2_DOWN_CORE, B2_UP_X, B2_UP_Y, B2_UP_CORE)

# Legend
leg_y = [1032, 1062, 1091, 1120]
leg_col = [COL_DOWN, COL_GREY, COL_UP, "#7f7f7f"]
for y, c, t in zip(leg_y, leg_col, LEGEND_NAMES):
    bg.scatter([1833.5], [y], s=117, c=c, alpha=0.45, linewidths=0)
    bg.text(1858, y, t, fontsize=11.5, ha="left", va="center", color="black")

fig.savefig("out.png", dpi=100, facecolor="white")
